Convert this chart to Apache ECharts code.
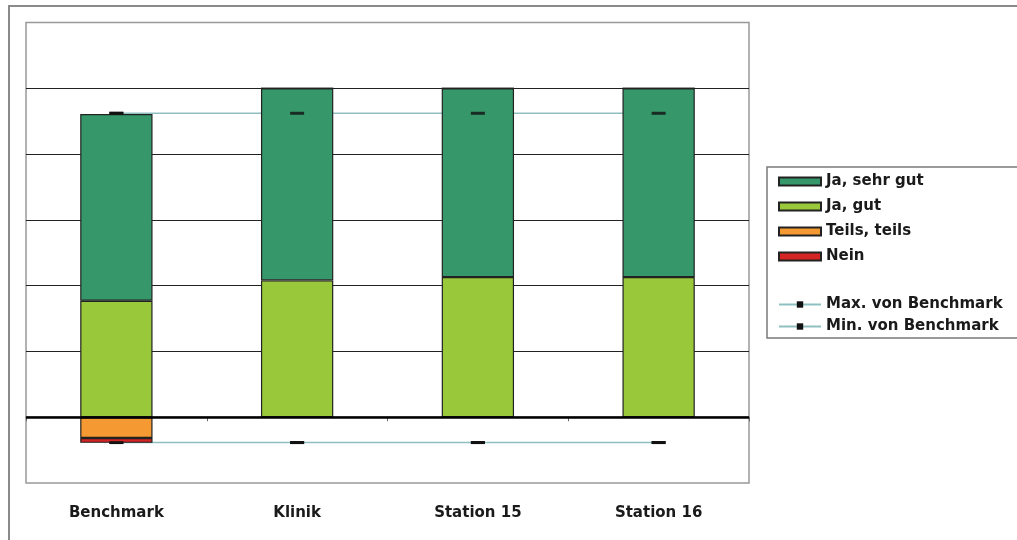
<!DOCTYPE html>
<html>
<head>
<meta charset="utf-8">
<script src="https://cdn.jsdelivr.net/npm/echarts@6/dist/echarts.min.js"></script>
<style>
html,body{margin:0;padding:0;background:#fff;}
#c{width:1017px;height:540px;}
</style>
</head>
<body>
<div id="c"></div>
<script>
var categories = ['Benchmark', 'Klinik', 'Station 15', 'Station 16'];
var jaSehrGut = [56.8, 58.4, 57.4, 57.4];
var jaGut = [35.4, 41.6, 42.6, 42.6];
var teilsTeils = [-6.3, 0, 0, 0];
var nein = [-1.5, 0, 0, 0];
var maxBenchmark = [92.4, 92.4, 92.4, 92.4];
var minBenchmark = [-7.7, -7.7, -7.7, -7.7];
var yTicks = [-20, 0, 20, 40, 60, 80, 100, 120];

var chart = echarts.init(document.getElementById('c'), null, {renderer: 'canvas'});
var font = 'DejaVu Sans';
var barBorder = {borderColor: '#222', borderWidth: 1.2};
var lineColor = '#8fbfbf';

var option = {
  animation: false,
  backgroundColor: '#fff',
  graphic: [
    {type: 'rect', shape: {x: 9, y: 6, width: 1040, height: 560}, style: {fill: 'none', stroke: '#8a8a8a', lineWidth: 2}, z: 0},
    {type: 'rect', shape: {x: 767, y: 167, width: 300, height: 171}, style: {fill: 'none', stroke: '#7a7a7a', lineWidth: 1.5}, z: 0}
  ],
  grid: {left: 26, right: 268, top: 22.5, bottom: 57, show: true, borderColor: '#999', borderWidth: 1.5, backgroundColor: 'transparent'},
  legend: [
    {
      data: ['Ja, sehr gut', 'Ja, gut', 'Teils, teils', 'Nein'],
      orient: 'vertical', left: 773, top: 169, itemWidth: 42, itemHeight: 8, itemGap: 10,
      textStyle: {fontFamily: font, fontWeight: 'bold', fontSize: 15, color: '#1a1a1a'},
      icon: 'rect', selectedMode: false
    },
    {
      data: ['Max. von Benchmark', 'Min. von Benchmark'],
      orient: 'vertical', left: 773, top: 292, itemWidth: 42, itemHeight: 8, itemGap: 7,
      textStyle: {fontFamily: font, fontWeight: 'bold', fontSize: 15, color: '#1a1a1a'},
      selectedMode: false
    }
  ],
  xAxis: {
    type: 'category', data: categories, boundaryGap: true,
    axisLine: {show: true, lineStyle: {color: '#888', width: 1.5}},
    axisTick: {show: true, length: 4, lineStyle: {color: '#666'}},
    axisLabel: {fontFamily: font, fontWeight: 'bold', fontSize: 15, color: '#1a1a1a', margin: 23},
    splitLine: {show: false}
  },
  yAxis: {
    type: 'value', min: yTicks[0], max: yTicks[yTicks.length - 1], interval: 20,
    axisLine: {show: false}, axisTick: {show: false}, axisLabel: {show: false},
    splitLine: {show: true, lineStyle: {color: ['rgba(0,0,0,0)', '#000', '#222', '#222', '#222', '#222', '#222', 'rgba(0,0,0,0)'], width: 1.2}}
  },
  series: [
    {
      name: 'Ja, gut', type: 'bar', stack: 's', data: jaGut, barWidth: '40%',
      itemStyle: Object.assign({color: '#99c93a'}, barBorder),
      markLine: {silent: true, symbol: 'none', label: {show: false}, lineStyle: {color: '#000', width: 2.5, type: 'solid'}, data: [{yAxis: 0}]}
    },
    {name: 'Ja, sehr gut', type: 'bar', stack: 's', data: jaSehrGut, barWidth: '40%', itemStyle: Object.assign({color: '#36986a'}, barBorder)},
    {name: 'Teils, teils', type: 'bar', stack: 's', data: teilsTeils, barWidth: '40%', itemStyle: Object.assign({color: '#f59a32'}, barBorder)},
    {name: 'Nein', type: 'bar', stack: 's', data: nein, barWidth: '40%', itemStyle: Object.assign({color: '#d42424'}, barBorder)},
    {
      name: 'Max. von Benchmark', type: 'line', data: maxBenchmark, z: 1,
      symbol: 'rect', symbolSize: [14, 3], showAllSymbol: true,
      lineStyle: {color: lineColor, width: 1.5}, itemStyle: {color: '#111'}
    },
    {
      name: 'Min. von Benchmark', type: 'line', data: minBenchmark, z: 1,
      symbol: 'rect', symbolSize: [14, 3], showAllSymbol: true,
      lineStyle: {color: lineColor, width: 1.5}, itemStyle: {color: '#111'}
    },
    {name: 'Max. von Benchmark', type: 'scatter', data: maxBenchmark, z: 5, symbol: 'rect', symbolSize: [14, 3], itemStyle: {color: '#111'}},
    {name: 'Min. von Benchmark', type: 'scatter', data: minBenchmark, z: 5, symbol: 'rect', symbolSize: [14, 3], itemStyle: {color: '#111'}}
  ]
};
chart.setOption(option);
</script>
</body>
</html>
